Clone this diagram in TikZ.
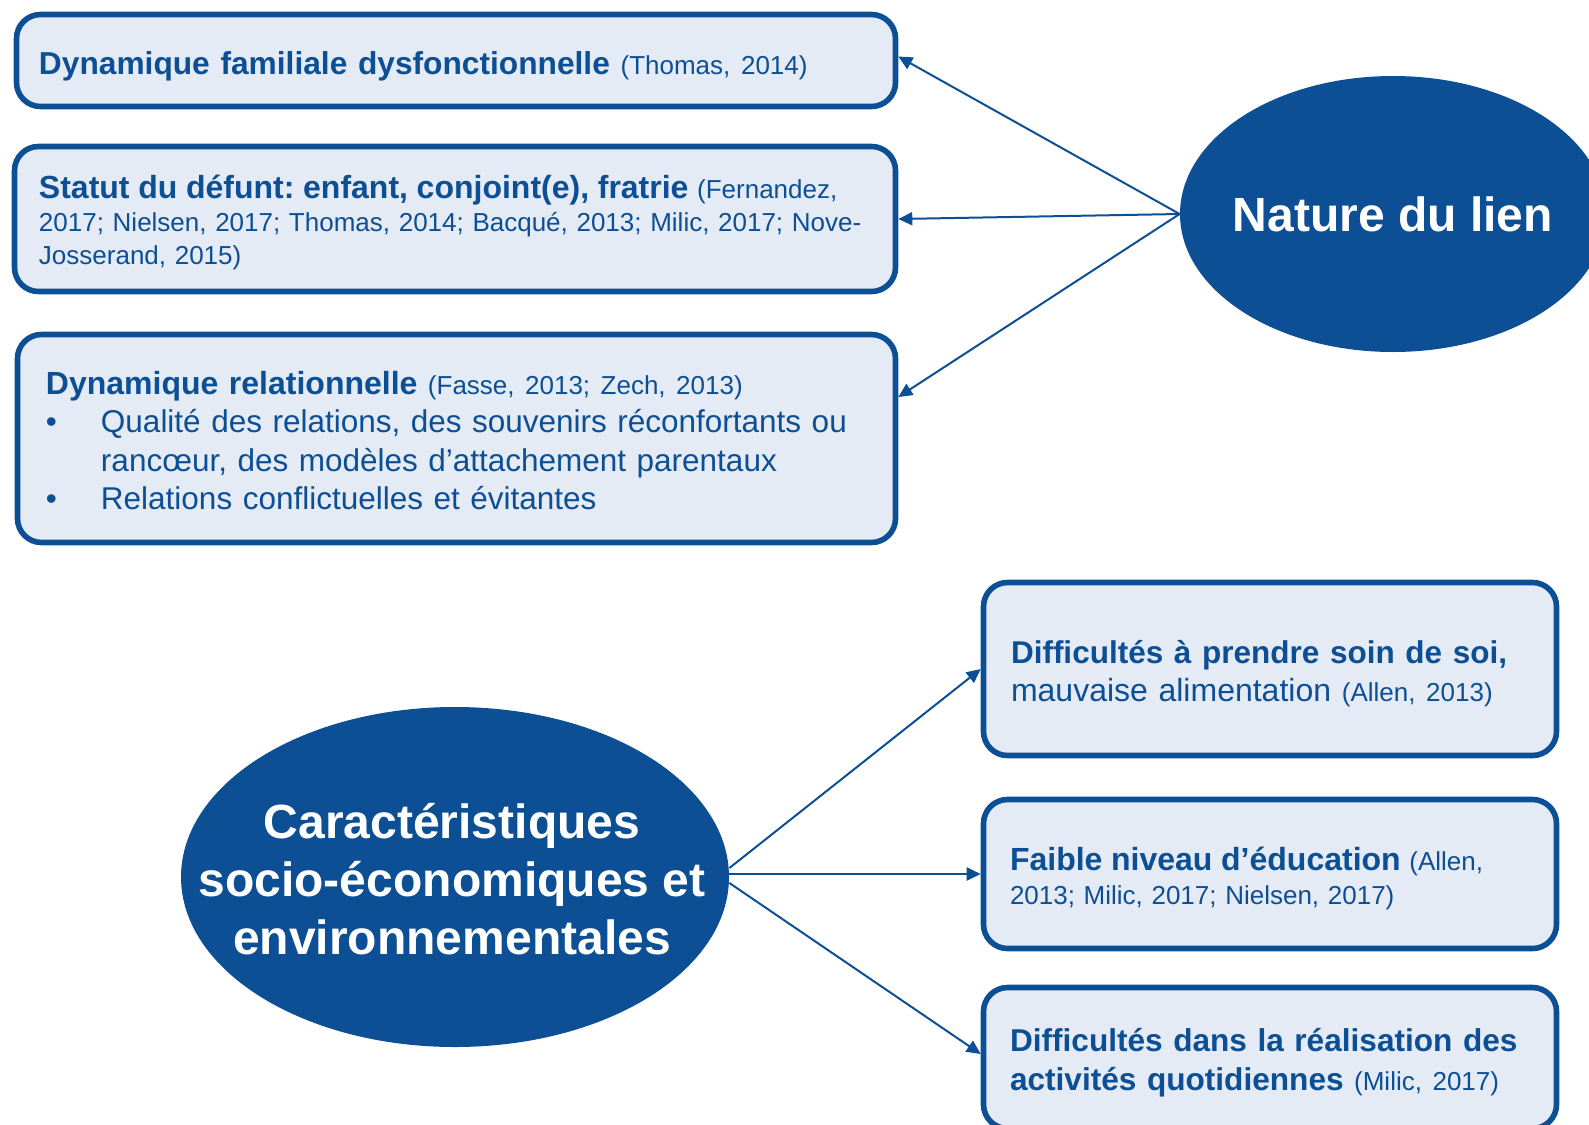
\documentclass[tikz,border=0pt]{standalone}
\usepackage{fontspec}
\setmainfont{Liberation Sans}
\usetikzlibrary{shapes.geometric, arrows.meta}
\definecolor{bleu}{HTML}{0C4F94}
\definecolor{fond}{HTML}{E5EBF4}
\newcommand{\cit}[1]{{\fontsize{13}{16.5}\selectfont #1}}
\frenchspacing

\begin{document}
\begin{tikzpicture}[
        x=0.5pt, y=-0.5pt, % 1 unite = 1 pixel de l'image
        boite/.style={draw=bleu, fill=fond, line width=2.8pt, rounded corners=12pt, text=bleu, align=left, inner ysep=0pt, minimum width=286.5pt},
        decale/.style={execute at begin node={\rule{0pt}{#1}}}, % descend le texte dans la boite
        bulle/.style={ellipse, fill=bleu, inner sep=0pt}, % Ellipses pleines
        bulletexte/.style={text=white, align=center, font=\bfseries\fontsize{24}{29}\selectfont},
        fleche/.style={draw=bleu, line width=1pt, -{Triangle[length=7pt, width=6.5pt]}},
    ]
    \clip (0,0) rectangle (1589,1124);

    % Nature du lien
    \node[bulle, minimum width=213pt, minimum height=138pt] (lien) at (1393,214) {};
    \node[bulletexte] at (lien) {Nature du lien};

    \node[boite, decale=17.5pt, minimum width=439.5pt, minimum height=46pt, inner xsep=11.25pt, text width=417pt, font=\fontsize{16}{19.3}\selectfont] (b1) at (456,60.5)
        {{\bfseries\fontsize{15.85}{19.3}\selectfont Dynamique familiale dysfonctionnelle} \cit{(Thomas, 2014)}};
    \node[boite, decale=15pt, minimum width=440.5pt, minimum height=72.5pt, inner xsep=12.25pt, text width=416pt, font=\fontsize{13}{16.5}\selectfont] (b2) at (455,219)
        {{\bfseries\fontsize{16}{16.5}\selectfont Statut du défunt: enfant, conjoint(e), fratrie} (Fernandez,\\
         2017; Nielsen, 2017; Thomas, 2014; Bacqué, 2013; Milic, 2017; Nove-\\
         Josserand, 2015)};
    \node[boite, decale=13.6pt, minimum width=439pt, minimum height=104pt, inner xsep=14.25pt, text width=410.5pt, font=\fontsize{15.75}{19.3}\selectfont] (b3) at (456.5,438.5)
        {{\bfseries\fontsize{16}{19.3}\selectfont Dynamique relationnelle} \cit{(Fasse, 2013; Zech, 2013)}\\
         \makebox[27.5pt][l]{•}Qualité des relations, des souvenirs réconfortants ou\\
         \hspace*{27.5pt}rancœur, des modèles d’attachement parentaux\\
         \makebox[27.5pt][l]{•}Relations conflictuelles et évitantes};

    \draw[fleche] (lien.west) -- ([yshift=2pt]b1.east);
    \draw[fleche] (lien.west) -- (b2.east);
    \draw[fleche] (lien.west) -- ([yshift=20.75pt]b3.east);

    % Caracteristiques socio-economiques
    \node[bulle, minimum width=274pt, minimum height=170pt] (socio) at (455,877) {};
    \node[bulletexte] at ([xshift=-1.5pt, yshift=-1pt]socio) {Caractéristiques\\socio-économiques et\\environnementales};

    \node[boite, decale=16pt, minimum height=86.5pt, inner xsep=13.75pt, text width=259pt, font=\fontsize{16}{19.3}\selectfont] (b4) at (1270,669)
        {{\bfseries\fontsize{15.75}{19.3}\selectfont Difficultés à prendre soin de soi,}\\
         mauvaise alimentation \cit{(Allen, 2013)}};
    \node[boite, decale=16.5pt, minimum height=74.5pt, inner xsep=13.25pt, text width=260pt, font=\fontsize{13}{17}\selectfont] (b5) at (1270,874)
        {{\bfseries\fontsize{16}{17}\selectfont Faible niveau d’éducation} (Allen,\\
         2013; Milic, 2017; Nielsen, 2017)};
    \node[boite, decale=16pt, minimum height=70.5pt, inner xsep=13.25pt, text width=260pt, font=\fontsize{15.8}{19.3}\selectfont] (b6) at (1270,1058)
        {\textbf{Difficultés dans la réalisation des}\\
         \textbf{activités quotidiennes} \cit{(Milic, 2017)}};

    \draw[fleche] ([yshift=4.5pt]socio.east) -- (b4.west);
    \draw[fleche] (socio.east |- b5.west) -- (b5.west);
    \draw[fleche] ([yshift=-3pt]socio.east) -- ([yshift=2pt]b6.west);
\end{tikzpicture}
\end{document}
